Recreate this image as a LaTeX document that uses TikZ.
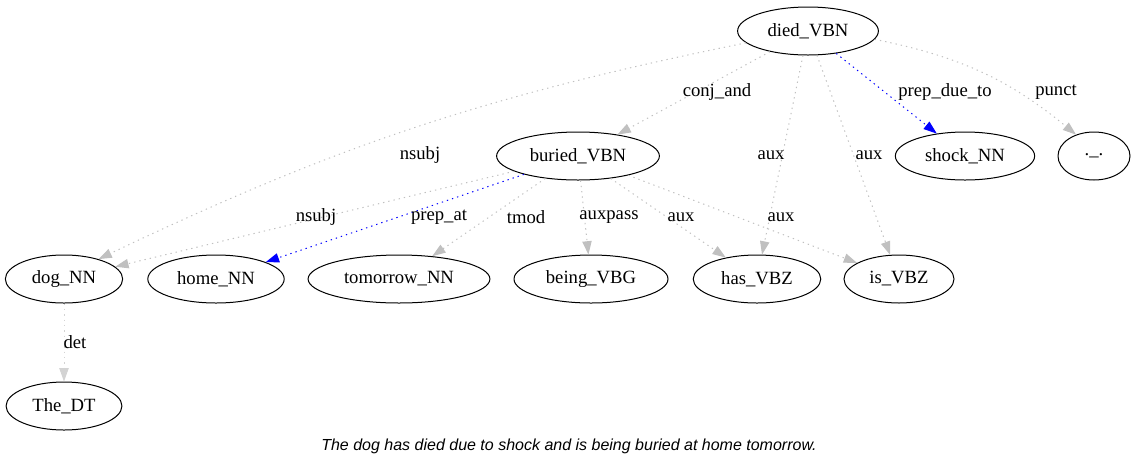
\documentclass[tikz,border=0pt]{standalone}
\usepackage{fontspec}
\setmainfont{Liberation Serif}
\newfontfamily\sentfont{Liberation Sans}
\usetikzlibrary{arrows.meta,shapes.geometric}
\definecolor{DepGray}{HTML}{C0C0C0}
\definecolor{DepLight}{HTML}{D3D3D3}
\definecolor{DepBlue}{HTML}{0000FF}
\tikzset{
  word/.style={ellipse, draw=black, line width=0.75pt, inner xsep=7pt, inner ysep=2pt,
               minimum width=54pt, minimum height=36pt, font=\fontsize{14}{16}\selectfont},
  dep/.style={-{Triangle[length=10pt,width=7pt]}, line width=0.75pt, DepGray,
              dash pattern=on 1pt off 3pt},
  prepdep/.style={dep, DepBlue},
  detdep/.style={dep, DepLight},
  lbl/.style={font=\fontsize{14}{16}\selectfont, text=black, inner sep=1pt},
  sentence/.style={font=\sentfont\itshape\fontsize{12}{14}\selectfont},
}

\begin{document}
\begin{tikzpicture}[x=0.75pt, y=-0.75pt]
  \useasboundingbox (0,0) rectangle (1136,469);

  % words
  \node[word] (died)     at (808,31)  {died\_VBN};
  \node[word] (buried)   at (578,156) {buried\_VBN};
  \node[word] (shock)    at (965,156) {shock\_NN};
  \node[word] (dot)      at (1094,156) {.\_.};
  \node[word] (dog)      at (64,279)  {dog\_NN};
  \node[word] (home)     at (216,279) {home\_NN};
  \node[word] (tomorrow) at (399,279) {tomorrow\_NN};
  \node[word] (being)    at (591,279) {being\_VBG};
  \node[word] (has)      at (757,279) {has\_VBZ};
  \node[word] (is)       at (899,279) {is\_VBZ};
  \node[word] (the)      at (64,406)  {The\_DT};

  % dependencies of died
  \draw[dep] (died) to[bend right=7] (dog.30);
  \node[lbl] (l-nsubj1) at (420,155) {nsubj};
  \draw[dep] (died) -- (buried) node[lbl] at (717,92) {conj\_and};
  \draw[dep] (died) -- (has) node[lbl] at (771,155) {aux};
  \draw[dep] (died) -- (is) node[lbl] at (869,155) {aux};
  \draw[prepdep] (died) -- (shock) node[lbl] at (945,92) {prep\_due\_to};
  \draw[dep] (died) to[bend left=14] (dot.130);
  \node[lbl] (l-punct) at (1056,92) {punct};

  % dependencies of buried
  \draw[dep] (buried) -- (dog) node[lbl] at (316,217) {nsubj};
  \draw[prepdep] (buried) -- (home) node[lbl] at (439,217) {prep\_at};
  \draw[dep] (buried) -- (tomorrow) node[lbl] at (526,217) {tmod};
  \draw[dep] (buried) -- (being) node[lbl] at (609,217) {auxpass};
  \draw[dep] (buried) -- (has) node[lbl] at (681,217) {aux};
  \draw[dep] (buried) -- (is) node[lbl] at (781,217) {aux};

  \draw[detdep] (dog) -- (the) node[lbl] at (75,342) {det};

  \node[sentence] (sent) at (569,446)
    {The dog has died due to shock and is being buried at home tomorrow.};
\end{tikzpicture}
\end{document}
